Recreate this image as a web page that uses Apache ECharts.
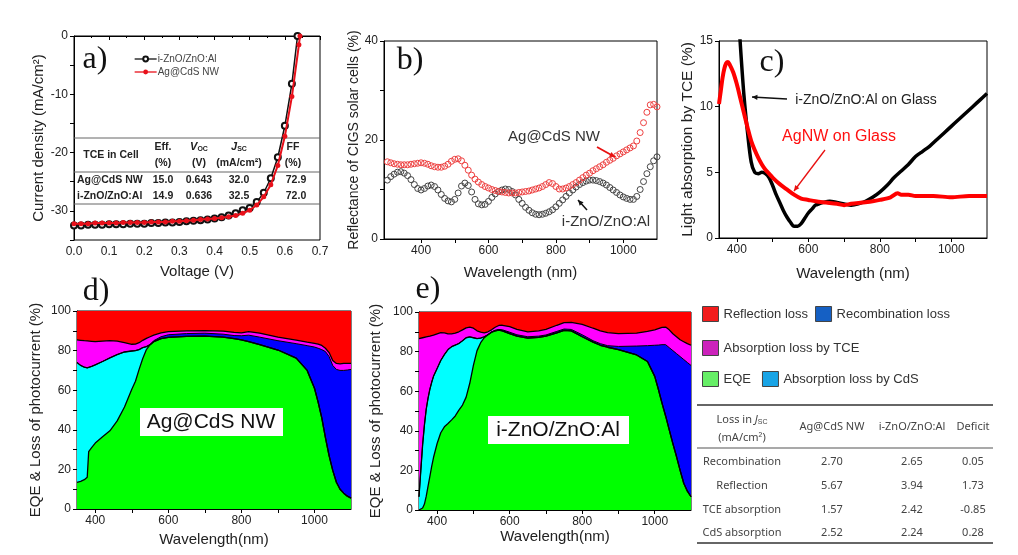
<!DOCTYPE html>
<html><head><meta charset="utf-8">
<script src="https://cdn.jsdelivr.net/npm/echarts@6/dist/echarts.min.js"></script>
<style>html,body{margin:0;padding:0;background:#fff}#c{width:1018px;height:555px}</style>
</head><body><div id="c"></div>
<script>
// ================= DATA =================
// (a) J-V curves
const voltageZnO = [0,0.02,0.04,0.06,0.08,0.10,0.12,0.14,0.16,0.18,0.20,0.22,0.24,0.26,0.28,0.30,0.32,0.34,0.36,0.38,0.40,0.42,0.44,0.46,0.48,0.50,0.52,0.54,0.56,0.58,0.60,0.62,0.636];
const currentZnO = [-32.5,-32.5,-32.4,-32.4,-32.4,-32.3,-32.3,-32.3,-32.2,-32.2,-32.2,-32.1,-32.1,-32.0,-32.0,-31.9,-31.8,-31.7,-31.6,-31.5,-31.3,-31.1,-30.8,-30.4,-29.9,-29.5,-28.5,-26.9,-24.4,-20.8,-15.4,-8.2,0];
const voltageAg = [0,0.02,0.04,0.06,0.08,0.10,0.12,0.14,0.16,0.18,0.20,0.22,0.24,0.26,0.28,0.30,0.32,0.34,0.36,0.38,0.40,0.42,0.44,0.46,0.48,0.50,0.52,0.54,0.56,0.58,0.60,0.62,0.64,0.643];
const currentAg = [-32.2,-32.2,-32.2,-32.1,-32.1,-32.1,-32.1,-32.0,-32.0,-32.0,-32.0,-31.9,-31.9,-31.9,-31.8,-31.8,-31.7,-31.6,-31.5,-31.4,-31.3,-31.2,-31.0,-30.8,-30.4,-29.9,-29.0,-27.6,-25.5,-22.2,-17.2,-10.4,-1.5,0];
const cellHeader = ['TCE in Cell','Eff.','V','J','FF'];
const cellUnits = ['(%)','(V)','(mA/cm²)','(%)'];
const cellRows = [['Ag@CdS NW','15.0','0.643','32.0','72.9'],['i-ZnO/ZnO:Al','14.9','0.636','32.5','72.0']];

// (b) reflectance
const wavelengthB = [300,310,320,330,340,350,360,370,380,390,400,410,420,430,440,450,460,470,480,490,500,510,520,530,540,550,560,570,580,590,600,610,620,630,640,650,660,670,680,690,700,710,720,730,740,750,760,770,780,790,800,810,820,830,840,850,860,870,880,890,900,910,920,930,940,950,960,970,980,990,1000,1010,1020,1030,1040,1050,1060,1070,1080,1090,1100];
const reflZnO = [11.9,12.6,13.1,13.5,13.6,13.3,12.8,12.0,11.0,10.2,9.9,10.2,10.7,10.9,10.6,9.9,9.0,8.2,7.7,7.5,8.0,9.3,10.7,11.3,10.8,9.5,8.0,7.1,6.9,7.0,7.6,8.4,9.1,9.6,9.9,10.1,10.0,9.6,8.9,8.0,7.2,6.4,5.8,5.3,5.0,4.9,5.0,5.2,5.5,5.9,6.5,7.2,7.9,8.6,9.3,9.9,10.5,11.0,11.4,11.7,11.9,11.9,11.8,11.6,11.3,10.9,10.4,9.9,9.4,8.9,8.5,8.2,8.0,8.0,8.6,10.0,11.6,13.2,14.6,15.8,16.6];
const reflAg = [15.6,15.4,15.2,15.1,15.0,15.0,15.0,15.1,15.2,15.3,15.4,15.3,15.1,14.8,14.6,14.5,14.5,14.7,15.1,15.7,16.1,16.2,15.8,14.9,13.9,12.9,12.1,11.5,11.0,10.6,10.3,10.0,9.8,9.6,9.5,9.4,9.3,9.3,9.3,9.4,9.5,9.6,9.7,9.9,10.1,10.3,10.6,11.0,11.4,11.2,10.6,10.1,10.1,10.3,10.6,11.0,11.4,11.9,12.4,12.9,13.3,13.8,14.2,14.6,15.0,15.5,15.9,16.3,16.8,17.2,17.6,18.0,18.4,18.8,19.8,21.5,23.5,25.6,27.1,27.2,26.7];

// (c) light absorption by TCE
const wavelengthCZnO = [400,410,420,430,440,450,460,470,480,490,500,510,520,530,540,550,560,570,580,590,600,610,620,630,640,660,680,700,720,740,760,780,800,820,840,860,880,900,920,940,960,980,1000,1020,1040,1060,1080,1100];
const absZnO = [19,14.6,10.8,8.0,5.8,5.0,4.9,5.0,4.9,4.6,4.0,3.3,2.7,2.1,1.6,1.2,0.9,0.9,1.1,1.5,1.9,2.2,2.5,2.6,2.7,2.8,2.7,2.6,2.5,2.6,2.8,3.1,3.5,4.0,4.6,5.1,5.6,6.2,6.6,7.0,7.5,8.0,8.5,9.0,9.5,10.0,10.5,11.0];
const wavelengthCAg = [350,355,360,365,370,375,380,390,400,410,420,430,440,450,460,470,480,490,500,520,540,560,580,600,620,650,680,700,720,750,780,800,830,850,860,880,900,950,1000,1050,1100];
const absAg = [10.2,11.2,12.2,12.9,13.3,13.4,13.2,12.6,11.7,10.6,9.5,8.4,7.4,6.7,6.1,5.6,5.2,4.9,4.6,4.1,3.7,3.3,3.0,2.9,2.8,2.7,2.6,2.5,2.6,2.7,2.8,2.9,3.1,3.4,3.3,3.3,3.2,3.2,3.1,3.2,3.2];

// (d) Ag@CdS NW: cumulative boundaries (%)
const wavelengthD = [350,360,370,378,382,390,400,420,440,460,480,500,510,520,530,540,550,560,580,600,650,700,750,780,800,820,850,900,950,980,1000,1010,1020,1030,1040,1050,1060,1070,1080,1090,1100];
const eqeD = [13.5,14.0,14.8,16.0,29.0,31.0,33.3,36.5,39.5,44.5,51.5,60.5,64.5,70.5,76.0,80.5,83.0,84.5,86.0,86.7,87.2,87.3,86.8,86.0,85.4,84.5,83.0,80.3,76.2,70.0,61.0,54.0,46.0,36.0,27.0,19.5,13.5,10.0,8.0,6.5,5.5];
const cdsTopD = [74.0,72.5,71.6,71.3,71.5,72.0,72.8,74.5,76.3,78.0,79.3,79.8,80.0,80.5,81.5,82.0,83.0,84.5,86.0,86.7,87.2,87.3,86.8,86.0,85.4,84.5,83.0,80.3,76.2,70.0,61.0,54.0,46.0,36.0,27.0,19.5,13.5,10.0,8.0,6.5,5.5];
const recombTopD = [74.0,72.5,71.6,71.3,71.5,72.0,72.8,74.5,76.3,78.0,79.3,79.8,80.0,80.5,81.5,82.0,83.0,85.0,87.0,88.0,88.6,88.8,88.3,87.6,87.5,87.8,86.8,85.0,83.5,82.5,81.8,81.2,80.5,79.5,77.0,72.5,70.5,70.0,70.0,70.2,70.5];
const tceTopD = [85.4,85.2,85.0,84.9,84.8,84.7,84.5,84.8,85.0,84.8,84.0,83.2,83.3,84.0,85.2,86.2,87.0,87.8,89.0,89.6,90.0,90.1,89.8,89.2,89.0,89.6,88.8,86.8,85.3,84.3,83.7,83.3,82.6,81.2,79.0,75.0,73.5,73.3,73.5,73.5,73.5];

// (e) i-ZnO/ZnO:Al: cumulative boundaries (%)
const wavelengthE = [350,355,360,365,370,375,380,385,390,400,410,420,430,440,450,460,470,480,490,500,510,520,530,540,550,560,570,580,600,620,650,680,700,730,750,770,800,830,850,870,900,950,980,1000,1010,1020,1030,1040,1050,1060,1070,1080,1090,1100];
const eqeE = [0,0.3,1.0,3.0,7.0,12.0,17.0,22.0,26.5,33.6,39.0,42.0,43.7,45.5,47.5,50.4,53.0,57.0,64.0,73.0,80.5,84.5,87.0,88.5,89.8,90.5,90.8,90.5,89.1,87.8,86.8,87.2,87.8,89.5,90.7,90.5,87.5,84.8,83.2,82.2,81.0,78.3,75.0,67.5,61.0,54.0,47.5,40.5,33.5,27.0,20.0,13.5,9.5,6.7];
const cdsTopE = [6.7,20.0,33.0,43.0,51.0,56.5,61.0,64.5,67.5,71.5,75.5,78.5,81.0,82.5,83.3,84.1,85.5,87.0,87.4,87.0,86.6,86.8,87.5,88.5,89.8,90.5,90.8,90.5,89.1,87.8,86.8,87.2,87.8,89.5,90.7,90.5,87.5,84.8,83.2,82.2,81.0,78.3,75.0,67.5,61.0,54.0,47.5,40.5,33.5,27.0,20.0,13.5,9.5,6.7];
const recombTopE = [6.7,20.0,33.0,43.0,51.0,56.5,61.0,64.5,67.5,71.5,75.5,78.5,81.0,82.5,83.3,84.1,85.5,87.0,87.4,87.0,86.6,86.8,87.5,88.5,89.8,90.8,91.2,91.0,89.8,88.5,87.5,87.8,88.4,90.2,91.4,91.2,88.5,85.5,84.0,83.0,82.6,82.8,83.0,83.2,83.3,83.5,83.5,82.0,80.5,79.0,77.5,76.0,74.5,73.0];
const tceTopE = [86.6,86.8,87.0,87.2,87.4,87.6,87.8,88.0,88.3,89.0,89.6,89.5,89.0,89.0,89.3,90.0,91.0,92.0,92.4,91.8,90.5,89.8,89.5,90.0,91.0,92.3,93.2,93.3,92.6,91.2,90.0,90.5,91.2,93.3,94.6,94.8,93.8,91.8,90.5,89.6,89.1,89.3,90.2,91.0,91.6,92.2,92.4,91.0,89.0,87.5,86.0,85.0,84.0,83.2];
const reflTopWl = [350,1100];
const reflTop = [100,100];

// loss table
const lossHeader = ['Ag@CdS NW','i-ZnO/ZnO:Al','Deficit'];
const lossRows = [['Recombination','2.70','2.65','0.05'],['Reflection','5.67','3.94','1.73'],['TCE absorption','1.57','2.42','-0.85'],['CdS absorption','2.52','2.24','0.28']];

// tick labels
const wlLabels = [400,600,800,1000];
const wlTicks = [400,500,600,700,800,900,1000];

// ================= CHART =================
const FONT = 'Liberation Sans, Arial, sans-serif';
const SERIF = 'Liberation Serif, DejaVu Serif, serif';
const pairs = (xs, ys) => xs.map((x, i) => [x, ys[i]]);
const chart = echarts.init(document.getElementById('c'), null, {renderer: 'canvas'});

const grids = [
  {left: 74, top: 36, width: 246, height: 204},
  {left: 384, top: 41, width: 273, height: 198},
  {left: 719, top: 41, width: 268, height: 197},
  {left: 77, top: 311, width: 274, height: 198},
  {left: 419, top: 312, width: 272, height: 198}
].map(g => Object.assign({show: true, borderColor: '#000', borderWidth: 1, backgroundColor: 'transparent'}, g));

const axLine = {show: true, lineStyle: {color: '#000', width: 1}};
const axLbl = {color: '#222', fontSize: 12, fontFamily: FONT, margin: 6};
const nameSt = {color: '#222', fontSize: 15, fontFamily: FONT};

function wlAxis(gi, min, max, name, gap) {
  return {type: 'value', gridIndex: gi, min: min, max: max, name: name, nameLocation: 'middle', nameGap: gap,
    nameTextStyle: nameSt, axisLine: axLine, splitLine: {show: false},
    axisTick: {show: true, inside: false, length: 4, customValues: wlTicks, lineStyle: {color: '#000'}},
    axisLabel: Object.assign({customValues: wlLabels, formatter: v => String(v)}, axLbl)};
}

const xAxes = [
  {type: 'value', gridIndex: 0, min: 0, max: 0.7, interval: 0.1, name: 'Voltage (V)', nameLocation: 'middle', nameGap: 24,
   nameTextStyle: nameSt, axisLine: axLine, splitLine: {show: false},
   axisTick: {length: 4, lineStyle: {color: '#000'}}, minorTick: {show: true, splitNumber: 2, length: 2, lineStyle: {color: '#000'}},
   axisLabel: Object.assign({formatter: v => v.toFixed(1)}, axLbl)},
  wlAxis(1, 290, 1100, 'Wavelength (nm)', 26),
  wlAxis(2, 350, 1100, 'Wavelength (nm)', 28),
  wlAxis(3, 350, 1100, 'Wavelength(nm)', 23),
  wlAxis(4, 350, 1100, 'Wavelength(nm)', 18)
];

function yAx(gi, min, max, interval, every, name, gap, size) {
  return {type: 'value', gridIndex: gi, min: min, max: max, interval: interval, name: name, nameLocation: 'middle', nameGap: gap,
    nameTextStyle: Object.assign({}, nameSt, {fontSize: size}), axisLine: axLine, splitLine: {show: false},
    axisTick: {length: 4, lineStyle: {color: '#000'}},
    axisLabel: Object.assign({formatter: v => (Math.round(v) % every === 0 ? String(v) : '')}, axLbl)};
}
const yAxes = [
  yAx(0, -35, 0, 5, 10, 'Current density (mA/cm²)', 28, 15),
  yAx(1, 0, 40, 10, 20, 'Reflectance of CIGS solar cells (%)', 22, 14),
  yAx(2, 0, 15, 5, 5, 'Light absorption by TCE (%)', 22, 15.5),
  yAx(3, 0, 100, 10, 20, 'EQE & Loss of photocurrent (%)', 34, 15),
  yAx(4, 0, 100, 10, 20, 'EQE & Loss of photocurrent (%)', 36, 15)
];

const C = {refl: '#ff0000', tce: '#ff00ff', recomb: '#0000ff', cds: '#00ffff', eqe: '#00ff00'};
function band(name, gi, xs, ys, color, lineW) {
  return {name: name, type: 'line', xAxisIndex: gi, yAxisIndex: gi, data: pairs(xs, ys), symbol: 'none',
    lineStyle: {color: '#000', width: lineW}, itemStyle: {color: color},
    areaStyle: {color: color, opacity: 1}, silent: true};
}

const series = [
  {name: 'i-ZnO/ZnO:Al', type: 'line', xAxisIndex: 0, yAxisIndex: 0, data: pairs(voltageZnO, currentZnO),
   symbol: 'emptyCircle', symbolSize: 6, lineStyle: {color: '#111', width: 1.5}, itemStyle: {color: '#111', borderWidth: 1}, z: 3},
  {name: 'Ag@CdS NW', type: 'line', xAxisIndex: 0, yAxisIndex: 0, data: pairs(voltageAg, currentAg),
   symbol: 'circle', symbolSize: 5, lineStyle: {color: '#e8101a', width: 2}, itemStyle: {color: '#e8101a'}, z: 4},

  {name: 'Reflectance i-ZnO/ZnO:Al', type: 'line', xAxisIndex: 1, yAxisIndex: 1, data: pairs(wavelengthB, reflZnO),
   symbol: 'circle', symbolSize: 6, lineStyle: {opacity: 0}, itemStyle: {color: 'rgba(0,0,0,0)', borderColor: '#444', borderWidth: 1}},
  {name: 'Reflectance Ag@CdS NW', type: 'line', xAxisIndex: 1, yAxisIndex: 1, data: pairs(wavelengthB, reflAg),
   symbol: 'circle', symbolSize: 6, lineStyle: {opacity: 0}, itemStyle: {color: 'rgba(0,0,0,0)', borderColor: '#ee4040', borderWidth: 1}},

  {name: 'Absorption i-ZnO/ZnO:Al on Glass', type: 'line', xAxisIndex: 2, yAxisIndex: 2, data: pairs(wavelengthCZnO, absZnO),
   symbol: 'none', smooth: 0.3, lineStyle: {color: '#000', width: 3.5}},
  {name: 'Absorption AgNW on Glass', type: 'line', xAxisIndex: 2, yAxisIndex: 2, data: pairs(wavelengthCAg, absAg),
   symbol: 'none', smooth: 0.3, lineStyle: {color: '#ff0000', width: 4}},

  band('Reflection loss', 3, reflTopWl, reflTop, C.refl, 0),
  band('Absorption loss by TCE', 3, wavelengthD, tceTopD, C.tce, 1.3),
  band('Recombination loss', 3, wavelengthD, recombTopD, C.recomb, 1),
  band('Absorption loss by CdS', 3, wavelengthD, cdsTopD, C.cds, 1.3),
  band('EQE', 3, wavelengthD, eqeD, C.eqe, 1.3),

  band('Reflection loss', 4, reflTopWl, reflTop, C.refl, 0),
  band('Absorption loss by TCE', 4, wavelengthE, tceTopE, C.tce, 1.3),
  band('Recombination loss', 4, wavelengthE, recombTopE, C.recomb, 1),
  band('Absorption loss by CdS', 4, wavelengthE, cdsTopE, C.cds, 1.3),
  band('EQE', 4, wavelengthE, eqeE, C.eqe, 1.3)
];

const legTxt = {fontSize: 13, color: '#333', fontFamily: FONT};
function legItem(name, color) {
  return {name: name, icon: 'rect', itemStyle: {color: color, borderColor: '#444', borderWidth: 1}};
}
const legends = [
  {left: 129, top: 49, orient: 'vertical', itemWidth: 22, itemHeight: 6, itemGap: 3, selectedMode: false,
   lineStyle: {width: 1.3}, textStyle: {fontSize: 10, color: '#444', fontFamily: FONT, padding: [0, 0, 0, -4]}, data: ['i-ZnO/ZnO:Al', 'Ag@CdS NW']},
  {left: 697, top: 301, itemWidth: 16, itemHeight: 15, itemGap: 7, selectedMode: false, textStyle: legTxt,
   data: [legItem('Reflection loss', '#f21c1c'), legItem('Recombination loss', '#1560c4')]},
  {left: 697, top: 335, itemWidth: 16, itemHeight: 15, itemGap: 7, selectedMode: false, textStyle: legTxt,
   data: [legItem('Absorption loss by TCE', '#cc22bb')]},
  {left: 697, top: 366, itemWidth: 16, itemHeight: 15, itemGap: 11, selectedMode: false, textStyle: legTxt,
   data: [legItem('EQE', '#66ee66'), legItem('Absorption loss by CdS', '#18a4e6')]}
];

// ---------- graphic annotations ----------
const G = [];
function txt(x, y, text, opt) {
  G.push({type: 'text', x: x, y: y, z: (opt && opt.z) || 50, silent: true,
    style: Object.assign({text: text, fill: '#222', font: '12px ' + FONT, align: 'center', verticalAlign: 'middle'}, (opt && opt.style) || {})});
}
function hline(x1, x2, y, color, w, z) {
  G.push({type: 'line', silent: true, z: z || 1, shape: {x1: x1, y1: y, x2: x2, y2: y}, style: {stroke: color, lineWidth: w}});
}
function arrow(x1, y1, x2, y2, color, w) {
  G.push({type: 'line', silent: true, z: 60, shape: {x1: x1, y1: y1, x2: x2, y2: y2}, style: {stroke: color, lineWidth: w}});
  const a = Math.atan2(y2 - y1, x2 - x1), L = 6, s = 0.45;
  G.push({type: 'polygon', silent: true, z: 60, shape: {points: [[x2, y2],
    [x2 - L * Math.cos(a - s), y2 - L * Math.sin(a - s)], [x2 - L * Math.cos(a + s), y2 - L * Math.sin(a + s)]]}, style: {fill: color}});
}

// panel labels
[['a)', 95, 60], ['b)', 410, 61], ['c)', 772, 63], ['d)', 96, 292], ['e)', 428, 290]].forEach(p =>
  txt(p[1], p[2], p[0], {style: {font: '32px ' + SERIF, fill: '#111'}}));

// (a) inset table
hline(74, 320, 138, '#666', 1);
hline(74, 320, 172, '#666', 1);
hline(74, 320, 204, '#666', 1);
const colX = [111, 163, 199, 239, 293];
const bold = '700 10.5px ' + FONT;
txt(colX[0], 155, cellHeader[0], {style: {font: bold}});
txt(colX[1], 147, cellHeader[1], {style: {font: bold}});
G.push({type: 'text', x: colX[2], y: 147, z: 50, silent: true, style: {text: '{i|' + cellHeader[2] + '}{s|OC}', align: 'center', verticalAlign: 'middle',
  rich: {i: {font: 'italic 700 11px ' + FONT, fill: '#222'}, s: {font: '700 7px ' + FONT, fill: '#222', padding: [5, 0, 0, 0]}}}});
G.push({type: 'text', x: colX[3], y: 147, z: 50, silent: true, style: {text: '{i|' + cellHeader[3] + '}{s|SC}', align: 'center', verticalAlign: 'middle',
  rich: {i: {font: 'italic 700 11px ' + FONT, fill: '#222'}, s: {font: '700 7px ' + FONT, fill: '#222', padding: [5, 0, 0, 0]}}}});
txt(colX[4], 147, cellHeader[4], {style: {font: bold}});
cellUnits.forEach((u, i) => txt(colX[i + 1], 163, u, {style: {font: bold}}));
cellRows.forEach((r, ri) => r.forEach((c, ci) => {
  if (ci === 0) txt(77, 180 + ri * 16.5, c, {style: {font: bold, align: 'left'}});
  else txt(colX[ci] + (ci === 4 ? 3 : 0), 180 + ri * 16.5, c, {style: {font: bold}});
}));

// (b) annotations
txt(554, 137, 'Ag@CdS NW', {style: {font: '15px ' + FONT, fill: '#333'}});
arrow(597, 147, 615, 157, '#e81010', 1.8);
txt(606, 222, 'i-ZnO/ZnO:Al', {style: {font: '15px ' + FONT, fill: '#333'}});
arrow(587, 210, 578, 200, '#111', 1.5);

// (c) annotations
txt(866, 100, 'i-ZnO/ZnO:Al on Glass', {style: {font: '14px ' + FONT, fill: '#222'}});
arrow(787, 99, 752, 97, '#111', 1.3);
txt(839, 137, 'AgNW on Glass', {style: {font: '16px ' + FONT, fill: '#ff1010'}});
arrow(825, 150, 794, 191, '#e81010', 1.3);

// (d)/(e) text boxes
G.push({type: 'rect', z: 80, silent: true, shape: {x: 140, y: 408, width: 143, height: 28}, style: {fill: '#fff'}});
txt(211, 422, 'Ag@CdS NW', {z: 81, style: {font: '21px ' + FONT, fill: '#111'}});
G.push({type: 'rect', z: 80, silent: true, shape: {x: 488, y: 416, width: 141, height: 28}, style: {fill: '#fff'}});
txt(558, 430, 'i-ZnO/ZnO:Al', {z: 81, style: {font: '21px ' + FONT, fill: '#111'}});

// loss table
const TF = '11px Noto Sans, ' + FONT;
hline(697, 993, 405, '#333', 1.5);
hline(697, 993, 448, '#555', 1.2);
hline(697, 993, 543, '#333', 1.5);
G.push({type: 'text', x: 742, y: 420, z: 50, silent: true, style: {text: 'Loss in {i|J}{s|SC}', align: 'center', verticalAlign: 'middle',
  font: TF, fill: '#444', rich: {i: {font: 'italic ' + TF, fill: '#444'}, s: {font: '7px ' + FONT, fill: '#444', padding: [5, 0, 0, 0]}}}});
txt(742, 438, '(mA/cm²)', {style: {font: TF, fill: '#444'}});
const lossColX = [742, 832, 912, 973];
lossHeader.forEach((h, i) => txt(lossColX[i + 1], 427, h, {style: {font: TF, fill: '#444'}}));
lossRows.forEach((r, ri) => r.forEach((c, ci) => txt(lossColX[ci], 462 + ri * 23.7, c, {style: {font: TF, fill: '#444'}})));

chart.setOption({
  animation: false,
  backgroundColor: '#fff',
  textStyle: {fontFamily: FONT},
  grid: grids,
  xAxis: xAxes,
  yAxis: yAxes,
  legend: legends,
  series: series,
  graphic: G
});
</script></body></html>
